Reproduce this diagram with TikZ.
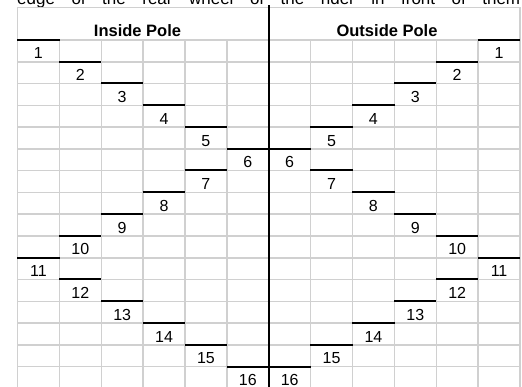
\documentclass[tikz,border=0pt]{standalone}
\usepackage{fontspec}
\setmainfont{Liberation Sans}
\usetikzlibrary{positioning}
\definecolor{cellgray}{RGB}{208,208,208}
\tikzset{
	numcell/.style={minimum width=41.875pt, minimum height=21.78pt, inner sep=0pt,
		text height=16pt, text depth=0pt, font=\fontsize{16}{19}\selectfont}
}
\tikzset{
	poletitle/.style={inner sep=0pt, font=\fontsize{16.5}{20}\selectfont\bfseries}
}
\tikzset{
	gridline/.style={draw=cellgray, line width=1.5pt}
}
\tikzset{
	stepline/.style={draw=black, line width=2pt}
}

\begin{document}
\begin{tikzpicture}[x=1pt, y=-1pt]
      \clip (0,0) rectangle (522,386);
      \node[anchor=base west, inner sep=0pt, font=\fontsize{17}{20}\selectfont] (caption) at (17,4)
        {\makebox[503pt][s]{edge of the rear wheel of the rider in front of them}};
      \draw[gridline] (17.5,7.3) -- (520,7.3);
      \foreach \j in {0,...,16}
        \draw[gridline] (17.5,40+\j*21.78) -- (520,40+\j*21.78);
      \foreach \i in {1,2,3,4,5,7,8,9,10,11}
        \draw[gridline] (17.5+\i*41.875,40) -- (17.5+\i*41.875,390);
      \draw[gridline] (17.5,7.3) -- (17.5,390);
      \draw[gridline] (520,7.3) -- (520,390);
      \node[poletitle] (inside) at (137.5,30.5) {Inside Pole};
      \node[poletitle] (outside) at (387,30.5) {Outside Pole};
      \foreach \k/\c in {1/0,2/1,3/2,4/3,5/4,6/5,7/4,8/3,9/2,10/1,11/0,12/1,13/2,14/3,15/4,16/5} {
        \node[numcell] (l\k) at ({17.5+(\c+0.5)*41.875},{40+(\k-0.5)*21.78}) {\k};
        \node[numcell] (r\k) at ({17.5+(11.5-\c)*41.875},{40+(\k-0.5)*21.78}) {\k};
        \draw[stepline] (l\k.north west) -- (l\k.north east);
        \draw[stepline] (r\k.north west) -- (r\k.north east);
      }
      \coordinate (midtop) at (268.75,5);
      \coordinate (midbot) at (268.75,390);
      \draw[stepline] (midtop) -- (midbot);
    \end{tikzpicture}
\end{document}
